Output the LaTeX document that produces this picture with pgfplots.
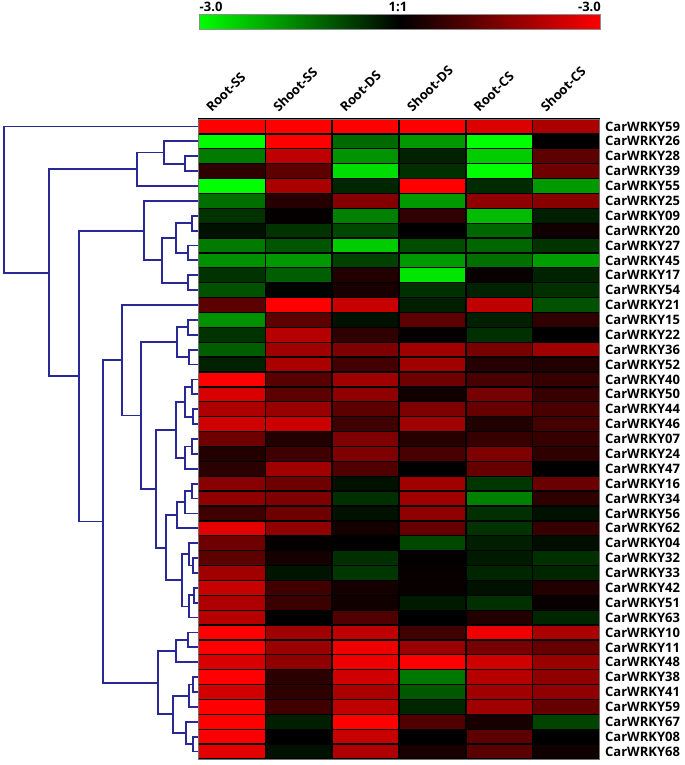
\documentclass[border=0pt]{standalone}
\usepackage{fontspec}
\setmainfont{Open Sans}
\usepackage{pgfplots}
\pgfplotsset{compat=1.18}
\definecolor{dendro}{RGB}{40,40,150}
\tikzset{lbl/.style={font=\fontsize{13bp}{15bp}\selectfont\bfseries, inner sep=0pt}}

\begin{document}
\begin{tikzpicture}
\begin{axis}[
    width=685bp, height=765bp, scale only axis,
    xmin=0, xmax=685, ymin=0, ymax=765,
    hide axis, clip=false,
    colormap={gr}{rgb255=(0,255,0) rgb255=(0,0,0) rgb255=(255,0,0)},
    point meta min=-3, point meta max=3,
  ]
  \path (axis cs:0,0) rectangle (axis cs:685,765);

  % heatmap: (column, row) [log ratio]; row 0 at the top
  \addplot[matrix plot*, mesh/cols=6, point meta=explicit,
    x filter/.expression={231.75+66.9*x},
    y filter/.expression={638.56-14.884*y}]
  coordinates {
    (0,0)[3.0] (1,0)[3.0] (2,0)[3.0] (3,0)[3.0] (4,0)[2.6] (5,0)[2.0]
    (0,1)[-3.0] (1,1)[3.0] (2,1)[-1.25] (3,1)[-1.8] (4,1)[-3.0] (5,1)[0.0]
    (0,2)[-1.45] (1,2)[2.25] (2,2)[-1.75] (3,2)[-0.4] (4,2)[-2.4] (5,2)[1.1]
    (0,3)[0.55] (1,3)[1.1] (2,3)[-2.6] (3,3)[-0.55] (4,3)[-3.0] (5,3)[1.3]
    (0,4)[-3.0] (1,4)[2.0] (2,4)[-0.45] (3,4)[3.0] (4,4)[-0.5] (5,4)[-1.8]
    (0,5)[-1.3] (1,5)[0.45] (2,5)[1.55] (3,5)[-1.8] (4,5)[1.7] (5,5)[1.6]
    (0,6)[-0.6] (1,6)[0.05] (2,6)[-1.5] (3,6)[0.55] (4,6)[-2.2] (5,6)[-0.35]
    (0,7)[-0.2] (1,7)[-0.6] (2,7)[-0.85] (3,7)[0.0] (4,7)[-1.2] (5,7)[0.2]
    (0,8)[-1.45] (1,8)[-1.0] (2,8)[-2.4] (3,8)[-0.9] (4,8)[-1.2] (5,8)[-0.6]
    (0,9)[-1.7] (1,9)[-1.8] (2,9)[-0.75] (3,9)[-1.8] (4,9)[-1.3] (5,9)[-1.85]
    (0,10)[-0.6] (1,10)[-1.1] (2,10)[0.4] (3,10)[-2.7] (4,10)[0.1] (5,10)[-0.4]
    (0,11)[-0.95] (1,11)[-0.05] (2,11)[0.3] (3,11)[-0.55] (4,11)[-0.4] (5,11)[-0.55]
    (0,12)[1.1] (1,12)[3.0] (2,12)[2.35] (3,12)[-0.35] (4,12)[2.25] (5,12)[-0.95]
    (0,13)[-1.7] (1,13)[1.1] (2,13)[-0.2] (3,13)[1.1] (4,13)[-0.35] (5,13)[0.55]
    (0,14)[-0.6] (1,14)[2.15] (2,14)[0.55] (3,14)[0.05] (4,14)[-0.55] (5,14)[0.0]
    (0,15)[-1.1] (1,15)[1.9] (2,15)[1.5] (3,15)[1.9] (4,15)[1.4] (5,15)[1.9]
    (0,16)[-0.4] (1,16)[2.0] (2,16)[0.8] (3,16)[1.9] (4,16)[0.45] (5,16)[0.4]
    (0,17)[3.0] (1,17)[1.05] (2,17)[1.9] (3,17)[1.3] (4,17)[0.85] (5,17)[0.65]
    (0,18)[2.55] (1,18)[1.1] (2,18)[1.7] (3,18)[0.2] (4,18)[1.4] (5,18)[0.65]
    (0,19)[2.05] (1,19)[1.8] (2,19)[1.1] (3,19)[1.5] (4,19)[1.2] (5,19)[0.85]
    (0,20)[2.45] (1,20)[2.4] (2,20)[0.75] (3,20)[1.9] (4,20)[0.4] (5,20)[0.8]
    (0,21)[1.3] (1,21)[0.4] (2,21)[1.5] (3,21)[0.45] (4,21)[0.65] (5,21)[0.65]
    (0,22)[0.4] (1,22)[0.75] (2,22)[1.5] (3,22)[0.85] (4,22)[1.5] (5,22)[0.55]
    (0,23)[0.5] (1,23)[1.9] (2,23)[0.95] (3,23)[0.0] (4,23)[1.2] (5,23)[0.0]
    (0,24)[1.6] (1,24)[1.3] (2,24)[-0.2] (3,24)[1.9] (4,24)[-0.65] (5,24)[1.25]
    (0,25)[1.7] (1,25)[1.5] (2,25)[-0.55] (3,25)[1.9] (4,25)[-1.5] (5,25)[0.55]
    (0,26)[0.75] (1,26)[1.3] (2,26)[-0.2] (3,26)[1.7] (4,26)[-0.55] (5,26)[-0.2]
    (0,27)[2.7] (1,27)[1.7] (2,27)[0.25] (3,27)[1.2] (4,27)[-0.6] (5,27)[0.65]
    (0,28)[1.3] (1,28)[0.05] (2,28)[0.0] (3,28)[-0.85] (4,28)[-0.35] (5,28)[-0.15]
    (0,29)[1.1] (1,29)[0.25] (2,29)[-0.55] (3,29)[0.05] (4,29)[-0.3] (5,29)[-0.55]
    (0,30)[1.9] (1,30)[-0.25] (2,30)[-0.65] (3,30)[0.1] (4,30)[-0.45] (5,30)[-0.45]
    (0,31)[2.35] (1,31)[0.75] (2,31)[0.25] (3,31)[0.1] (4,31)[-0.2] (5,31)[0.4]
    (0,32)[2.05] (1,32)[0.7] (2,32)[0.2] (3,32)[-0.3] (4,32)[-0.55] (5,32)[0.1]
    (0,33)[2.15] (1,33)[0.0] (2,33)[0.95] (3,33)[0.0] (4,33)[0.4] (5,33)[-0.45]
    (0,34)[3.0] (1,34)[1.9] (2,34)[2.25] (3,34)[0.75] (4,34)[2.8] (5,34)[2.0]
    (0,35)[3.0] (1,35)[1.8] (2,35)[2.8] (3,35)[1.8] (4,35)[1.4] (5,35)[1.2]
    (0,36)[2.55] (1,36)[1.7] (2,36)[2.8] (3,36)[3.0] (4,36)[2.45] (5,36)[1.8]
    (0,37)[3.0] (1,37)[0.5] (2,37)[2.45] (3,37)[-1.4] (4,37)[2.15] (5,37)[1.7]
    (0,38)[2.45] (1,38)[0.55] (2,38)[2.0] (3,38)[-1.05] (4,38)[1.9] (5,38)[1.7]
    (0,39)[3.0] (1,39)[0.75] (2,39)[2.25] (3,39)[-0.45] (4,39)[1.9] (5,39)[1.2]
    (0,40)[3.0] (1,40)[-0.35] (2,40)[3.0] (3,40)[0.95] (4,40)[0.28] (5,40)[-0.8]
    (0,41)[2.95] (1,41)[0.0] (2,41)[2.35] (3,41)[0.0] (4,41)[1.1] (5,41)[0.0]
    (0,42)[2.7] (1,42)[-0.2] (2,42)[2.05] (3,42)[0.3] (4,42)[1.05] (5,42)[0.2]
  };

  % cell borders
  \pgfplotsinvokeforeach{0,...,43}{
    \draw[black, line width=1.3bp] (axis cs:198.3,{646-14.884*#1}) -- (axis cs:599.7,{646-14.884*#1});
  }
  \pgfplotsinvokeforeach{0,...,6}{
    \draw[black, line width=1.3bp] (axis cs:{198.3+66.9*#1},6) -- (axis cs:{198.3+66.9*#1},646);
  }
  \draw[black!55, line width=0.8bp] (axis cs:198.3,6) rectangle (axis cs:599.7,646);

  % colour key
  \addplot[surf, shader=interp, mesh/cols=3, point meta=explicit] coordinates {
    (199.3,736)[-3] (400,736)[0] (600.7,736)[3]
    (199.3,750.7)[-3] (400,750.7)[0] (600.7,750.7)[3]
  };
  \draw[black!45, line width=0.8bp] (axis cs:199.3,736) rectangle (axis cs:600.7,750.7);
  \node[lbl, anchor=base west] at (axis cs:199.5,753.5) {-3.0};
  \node[lbl, anchor=base] at (axis cs:398,753.5) {1:1};
  \node[lbl, anchor=base east] at (axis cs:601,753.5) {-3.0};

  % dendrogram (y measured from the top of the picture)
  \addplot[dendro, line width=1.8bp, unbounded coords=jump]
  table[x index=0, y expr=765-\thisrowno{1}] {
    198 126.44
    4.3 126.44
    4.3 272.65
    48.7 272.65
    nan nan
    137 169.24
    48.7 169.24
    48.7 376.07
    79.3 376.07
    nan nan
    163.7 152.49
    137 152.49
    137 185.98
    198 185.98
    nan nan
    198 141.33
    163.7 141.33
    163.7 163.65
    185 163.65
    nan nan
    198 156.21
    185 156.21
    185 171.09
    198 171.09
    nan nan
    143.7 230.63
    79.3 230.63
    79.3 521.50
    103.3 521.50
    nan nan
    198 200.86
    143.7 200.86
    143.7 260.40
    162.3 260.40
    nan nan
    175.7 238.07
    162.3 238.07
    162.3 282.72
    188.3 282.72
    nan nan
    191.7 223.19
    175.7 223.19
    175.7 252.96
    187.7 252.96
    nan nan
    198 215.74
    191.7 215.74
    191.7 230.63
    198 230.63
    nan nan
    198 245.51
    187.7 245.51
    187.7 260.40
    198 260.40
    nan nan
    198 275.28
    188.3 275.28
    188.3 290.16
    198 290.16
    nan nan
    122.3 360.28
    103.3 360.28
    103.3 682.72
    158.3 682.72
    nan nan
    198 305.05
    122.3 305.05
    122.3 415.52
    141 415.52
    nan nan
    176.7 342.26
    141 342.26
    141 488.77
    155.7 488.77
    nan nan
    188.3 327.37
    176.7 327.37
    176.7 357.14
    189.3 357.14
    nan nan
    198 319.93
    188.3 319.93
    188.3 334.81
    198 334.81
    nan nan
    198 349.70
    189.3 349.70
    189.3 364.58
    198 364.58
    nan nan
    175.7 429.70
    155.7 429.70
    155.7 547.84
    166 547.84
    nan nan
    185 401.79
    175.7 401.79
    175.7 457.61
    185 457.61
    nan nan
    191.7 386.91
    185 386.91
    185 416.68
    193.3 416.68
    nan nan
    198 379.47
    191.7 379.47
    191.7 394.35
    198 394.35
    nan nan
    198 409.23
    193.3 409.23
    193.3 424.12
    198 424.12
    nan nan
    191.7 446.44
    185 446.44
    185 468.77
    198 468.77
    nan nan
    198 439.00
    191.7 439.00
    191.7 453.88
    198 453.88
    nan nan
    176.7 515.28
    166 515.28
    166 580.40
    182.3 580.40
    nan nan
    185 502.26
    176.7 502.26
    176.7 528.30
    198 528.30
    nan nan
    191.7 491.09
    185 491.09
    185 513.42
    198 513.42
    nan nan
    198 483.65
    191.7 483.65
    191.7 498.53
    198 498.53
    nan nan
    189.3 554.35
    182.3 554.35
    182.3 606.44
    189 606.44
    nan nan
    198 543.19
    189.3 543.19
    189.3 565.51
    193.3 565.51
    nan nan
    198 558.07
    193.3 558.07
    193.3 572.95
    198 572.95
    nan nan
    194.3 595.28
    189 595.28
    189 617.60
    198 617.60
    nan nan
    198 587.84
    194.3 587.84
    194.3 602.72
    198 602.72
    nan nan
    175.7 651.10
    158.3 651.10
    158.3 714.35
    172.7 714.35
    nan nan
    187.7 639.93
    175.7 639.93
    175.7 662.26
    198 662.26
    nan nan
    198 632.49
    187.7 632.49
    187.7 647.37
    198 647.37
    nan nan
    189.3 695.74
    172.7 695.74
    172.7 732.95
    185.7 732.95
    nan nan
    193.3 684.58
    189.3 684.58
    189.3 706.91
    198 706.91
    nan nan
    198 677.14
    193.3 677.14
    193.3 692.02
    198 692.02
    nan nan
    198 721.79
    185.7 721.79
    185.7 744.12
    193.3 744.12
    nan nan
    198 736.67
    193.3 736.67
    193.3 751.56
    198 751.56
  };

  % row and column names
  \foreach \n [count=\i from 0] in {59,26,28,39,55,25,09,20,27,45,17,54,21,15,22,36,52,40,50,44,46,07,24,47,16,34,56,62,04,32,33,42,51,63,10,11,48,38,41,59,67,08,68} {
    \edef\temp{\noexpand\node[lbl, anchor=west] at (axis cs:605,{638.56-14.884*\i}) {CarWRKY\n};}
    \temp
  }
  \foreach \n [count=\j from 0] in {Root-SS,Shoot-SS,Root-DS,Shoot-DS,Root-CS,Shoot-CS} {
    \edef\temp{\noexpand\node[lbl, anchor=base west, rotate=45] at (axis cs:{211.75+66.9*\j},652) {\n};}
    \temp
  }
\end{axis}
\end{tikzpicture}
\end{document}
